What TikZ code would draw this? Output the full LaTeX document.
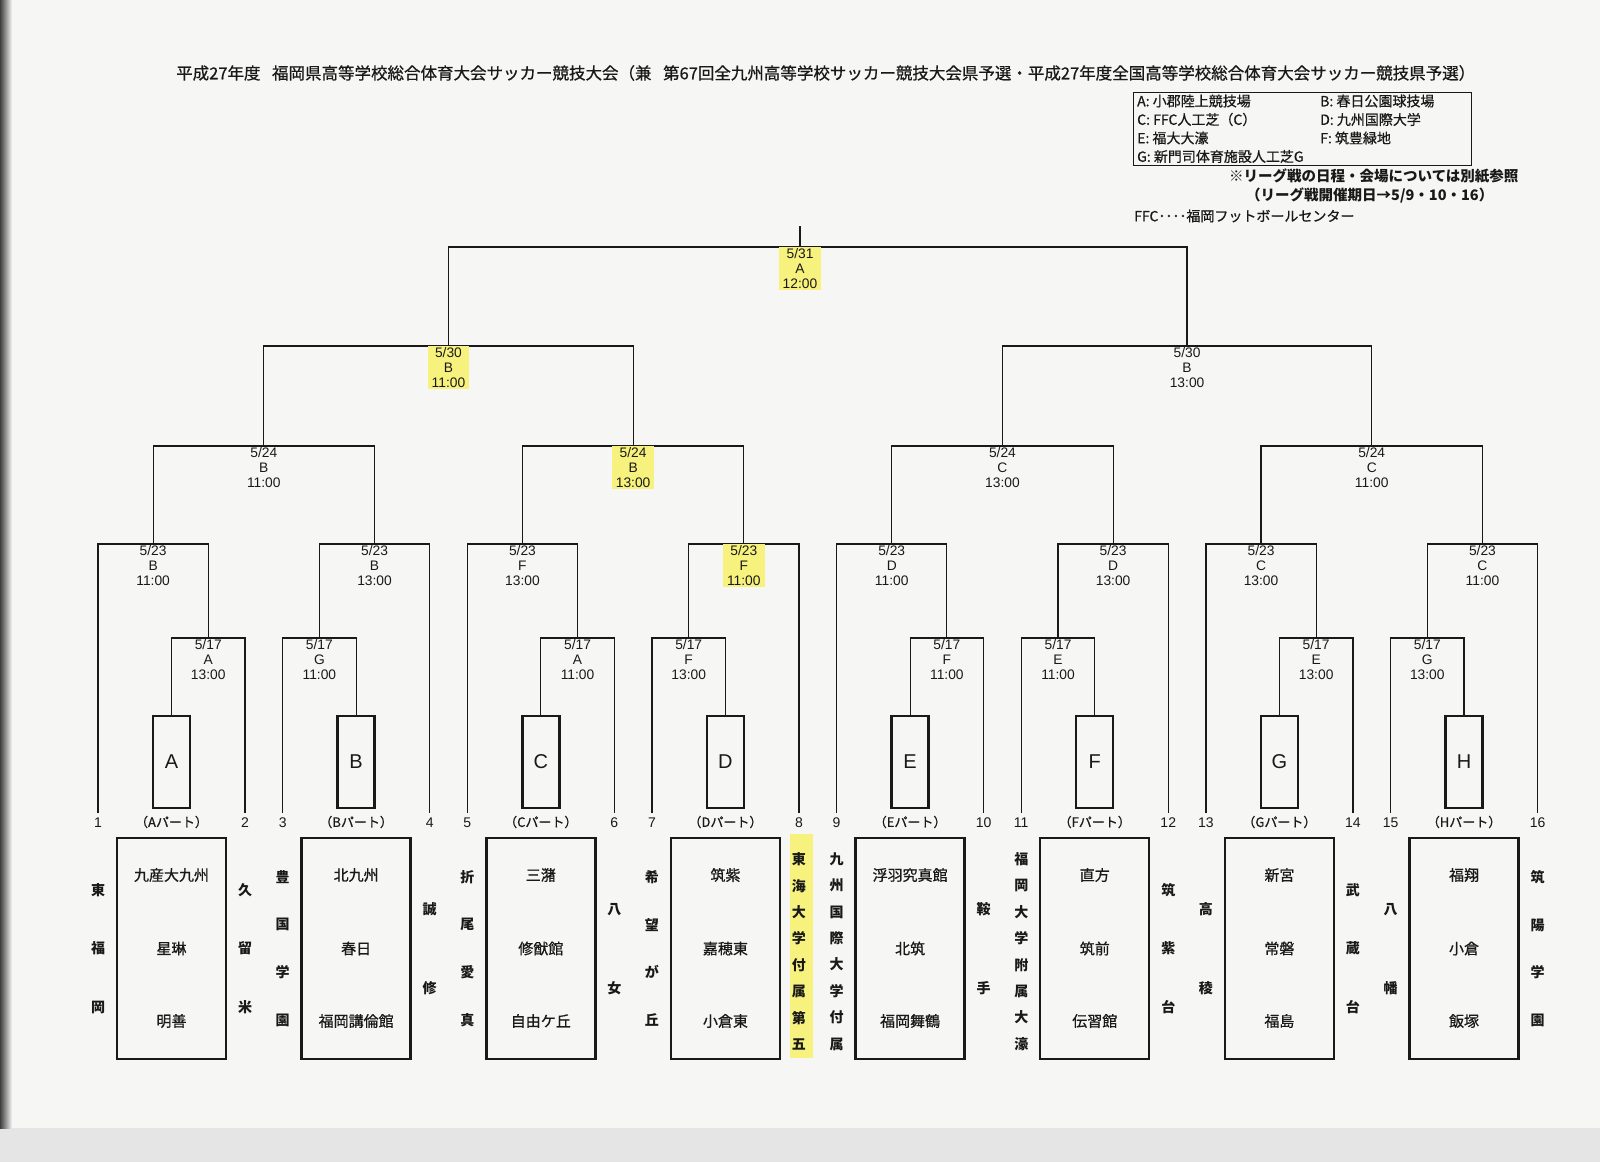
\documentclass[tikz,border=0pt]{standalone}
\usepackage{fontspec}
\setmainfont{Liberation Sans}
\newfontfamily\jp{Noto Sans CJK JP}
\newfontfamily\jpm[FakeBold=0.7]{Noto Sans CJK JP}
\usetikzlibrary{calc}
\definecolor{bg}{RGB}{246,246,245}
\definecolor{hl}{RGB}{247,242,125}
\definecolor{ink}{RGB}{25,25,25}
\tikzset{
  br/.style={draw=ink, line width=1.2pt},
  ml/.style={anchor=north, align=center, inner ysep=1pt, inner xsep=4pt, text=ink,
    font=\fontsize{13.8}{15.3}\selectfont},
  mlh/.style={ml, fill=hl},
  pbox/.style={draw=ink, line width=2.4pt, minimum width=37pt, minimum height=92pt, inner sep=0pt,
    font=\fontsize{20}{20}\selectfont, text=ink},
  tbox/.style={draw=ink, line width=2.4pt, minimum width=109pt, minimum height=221pt, inner sep=0pt},
  num/.style={inner sep=0pt, text=ink, font=\fontsize{14}{14}\selectfont},
  part/.style={inner sep=0pt, text=ink, font=\jpm\fontsize{13}{13}\selectfont},
  tn/.style={inner sep=0pt, text=ink, font=\jpm\fontsize{15}{15}\selectfont},
  v2/.style={inner sep=0pt, align=center, text=ink, font=\jp\bfseries\fontsize{14}{79}\selectfont},
  v3/.style={inner sep=0pt, align=center, text=ink, font=\jp\bfseries\fontsize{14}{58.5}\selectfont},
  v4/.style={inner sep=0pt, align=center, text=ink, font=\jp\bfseries\fontsize{14}{47.7}\selectfont},
  v8/.style={inner sep=0pt, align=center, text=ink, font=\jp\bfseries\fontsize{14}{26.4}\selectfont},
  leg/.style={anchor=west, inner sep=0pt, text=ink, font=\jpm\fontsize{14}{14}\selectfont},
  note/.style={anchor=west, inner sep=0pt, text=ink, font=\jp\bfseries\fontsize{14.5}{14.5}\selectfont},
}
\begin{document}
\begin{tikzpicture}[x=1pt,y=-1pt]
\useasboundingbox (0,0) rectangle (1600,1162);
\fill[bg] (0,0) rectangle (1600,1162);
\fill[black!10] (0,1128) rectangle (1600,1162);
\shade[left color=black!75, right color=bg] (0,0) rectangle (12,1128);

% title
\node[anchor=west, inner sep=0pt, text=ink, font=\jpm\fontsize{16.5}{16.5}\selectfont] (title) at (176,73)
  {平成27年度\hspace{0.7em}福岡県高等学校総合体育大会サッカー競技大会（兼\hspace{0.7em}第67回全九州高等学校サッカー競技大会県予選・平成27年度全国高等学校総合体育大会サッカー競技県予選）};

% legend
\draw[ink, line width=0.8pt] (1133,92) rectangle (1471,165);
\node[leg] (lgA) at (1137,101) {A: 小郡陸上競技場};
\node[leg] (lgB) at (1320,101) {B: 春日公園球技場};
\node[leg] (lgC) at (1137,119.5) {C: FFC人工芝（C）};
\node[leg] (lgD) at (1320,119.5) {D: 九州国際大学};
\node[leg] (lgE) at (1137,138) {E: 福大大濠};
\node[leg] (lgF) at (1320,138) {F: 筑豊緑地};
\node[leg] (lgG) at (1137,156.5) {G: 新門司体育施設人工芝G};
\node[note] (note1) at (1229,176) {※リーグ戦の日程・会場については別紙参照};
\node[note] (note2) at (1246,195) {（リーグ戦開催期日→5/9・10・16）};
\node[leg] (note3) at (1134,216) {FFC････福岡フットボールセンター};

% groups
\foreach \g/\L/\odd/\mv/\mt/\ms/\nv/\nt/\ns in {
  0/A/0/A/13:00/ml/B/11:00/ml,
  1/B/1/G/11:00/ml/B/13:00/ml,
  2/C/0/A/11:00/ml/F/13:00/ml,
  3/D/1/F/13:00/ml/F/11:00/mlh,
  4/E/0/F/11:00/ml/D/11:00/ml,
  5/F/1/E/11:00/ml/D/13:00/ml,
  6/G/0/E/13:00/ml/C/13:00/ml,
  7/H/1/G/13:00/ml/C/11:00/ml}{
  \pgfmathsetmacro\xo{98+184.65*\g}
  \pgfmathsetmacro\xb{\xo+73.5}
  \pgfmathsetmacro\xr{\xo+147}
  \pgfmathtruncatemacro\na{2*\g+1}
  \pgfmathtruncatemacro\nb{2*\g+2}
  \coordinate (tl\L) at (\xo,813);
  \coordinate (tr\L) at (\xr,813);
  \node[pbox] (pb\L) at (\xb,762) {\L};
  \node[tbox] (tb\L) at (\xb,948.5) {};
  \node[num] (na\L) at (\xo,823) {\na};
  \node[num] (nb\L) at (\xr,823) {\nb};
  \node[part] (pt\L) at (\xb,822) {（\L パート）};
  \ifnum\odd=0
    \pgfmathsetmacro\xa{(\xb+\xr)/2}
    \pgfmathsetmacro\xc{(\xo+\xa)/2}
    \coordinate (ra\L) at (\xa,638);
    \coordinate (rb\L) at (\xc,544);
    \draw[br] (pb\L.north) |- (ra\L) -| (tr\L);
    \draw[br] (tl\L) |- (rb\L) -| (ra\L);
  \else
    \pgfmathsetmacro\xa{(\xo+\xb)/2}
    \pgfmathsetmacro\xc{(\xa+\xr)/2}
    \coordinate (ra\L) at (\xa,638);
    \coordinate (rb\L) at (\xc,544);
    \draw[br] (tl\L) |- (ra\L) -| (pb\L.north);
    \draw[br] (ra\L) |- (rb\L) -| (tr\L);
  \fi
  \node[\ms] (la\L) at (ra\L) {5/17\\\mv\\\mt};
  \node[\ns] (lb\L) at (rb\L) {5/23\\\nv\\\nt};
}

% round 3
\coordinate (rcAB) at ($(rbA)!0.5!(rbB)+(0,-98)$);
\coordinate (rcCD) at ($(rbC)!0.5!(rbD)+(0,-98)$);
\coordinate (rcEF) at ($(rbE)!0.5!(rbF)+(0,-98)$);
\coordinate (rcGH) at ($(rbG)!0.5!(rbH)+(0,-98)$);
\draw[br] (rbA) |- (rcAB) -| (rbB);
\draw[br] (rbC) |- (rcCD) -| (rbD);
\draw[br] (rbE) |- (rcEF) -| (rbF);
\draw[br] (rbG) |- (rcGH) -| (rbH);
\node[ml] (lcAB) at (rcAB) {5/24\\B\\11:00};
\node[mlh] (lcCD) at (rcCD) {5/24\\B\\13:00};
\node[ml] (lcEF) at (rcEF) {5/24\\C\\13:00};
\node[ml] (lcGH) at (rcGH) {5/24\\C\\11:00};

% round 4
\coordinate (rdL) at ($(rcAB)!0.5!(rcCD)+(0,-100)$);
\coordinate (rdR) at ($(rcEF)!0.5!(rcGH)+(0,-100)$);
\draw[br] (rcAB) |- (rdL) -| (rcCD);
\draw[br] (rcEF) |- (rdR) -| (rcGH);
\node[mlh] (ldL) at (rdL) {5/30\\B\\11:00};
\node[ml] (ldR) at (rdR) {5/30\\B\\13:00};

% final
\coordinate (fin) at (800,247);
\coordinate (topc) at (800,226);
\draw[br] (rdL) |- (fin) -| (rdR);
\draw[br] (fin) -- (topc);
\node[mlh] (lfin) at (fin) {5/31\\A\\12:00};

% team names in boxes
\foreach \L/\a/\b/\c in {A/九産大九州/星琳/明善, B/北九州/春日/福岡講倫館, C/三潴/修猷館/自由ケ丘,
  D/筑紫/嘉穂東/小倉東, E/浮羽究真館/北筑/福岡舞鶴, F/直方/筑前/伝習館, G/新宮/常磐/福島, H/福翔/小倉/飯塚}{
  \node[tn] (ta\L) at ($(tb\L.center)+(0,-73.5)$) {\a};
  \node[tn] (tm\L) at ($(tb\L.center)+(0,0)$) {\b};
  \node[tn] (tz\L) at ($(tb\L.center)+(0,72.5)$) {\c};
}

% vertical team names
\fill[hl] (790,834) rectangle (813,1058);
\node[v3] (s1) at (98,948.5) {東\\福\\岡};
\node[v3] (s2) at (245,948.5) {久\\留\\米};
\node[v4] (s3) at (282.65,948.5) {豊\\国\\学\\園};
\node[v2] (s4) at (429.65,949) {誠\\修};
\node[v4] (s5) at (467.3,948.5) {折\\尾\\愛\\真};
\node[v2] (s6) at (614.3,949) {八\\女};
\node[v4] (s7) at (651.95,948.5) {希\\望\\が\\丘};
\node[v8] (s8) at (798.95,951.5) {東\\海\\大\\学\\付\\属\\第\\五};
\node[v8] (s9) at (836.6,951.5) {九\\州\\国\\際\\大\\学\\付\\属};
\node[v2] (s10) at (983.6,949) {鞍\\手};
\node[v8] (s11) at (1021.25,951.5) {福\\岡\\大\\学\\附\\属\\大\\濠};
\node[v3] (s12) at (1168.25,948.5) {筑\\紫\\台};
\node[v2] (s13) at (1205.9,949) {高\\稜};
\node[v3] (s14) at (1352.9,948.5) {武\\蔵\\台};
\node[v2] (s15) at (1390.55,949) {八\\幡};
\node[v4] (s16) at (1537.55,948.5) {筑\\陽\\学\\園};
\end{tikzpicture}
\end{document}
